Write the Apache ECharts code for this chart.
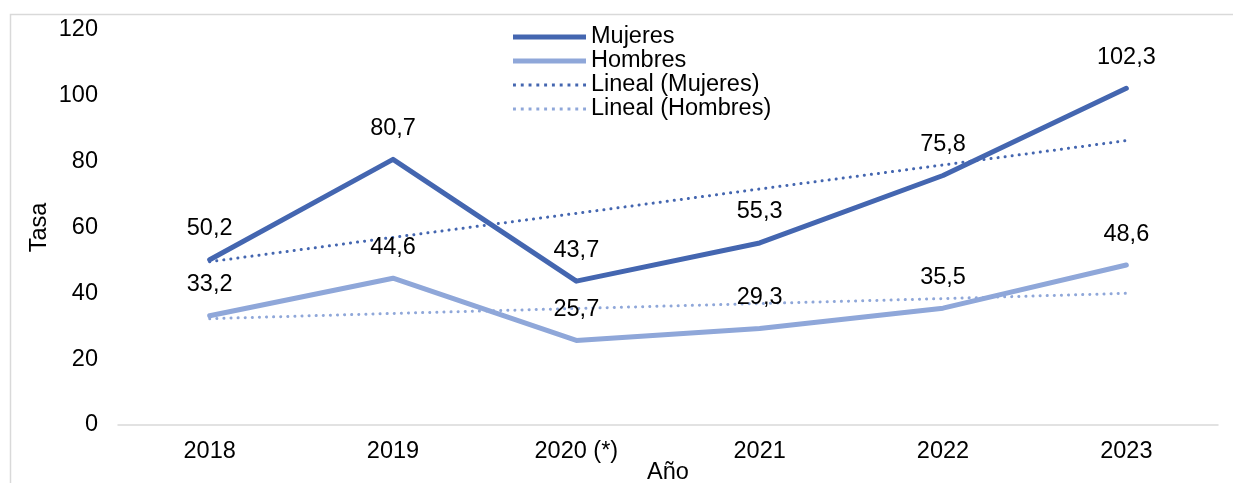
<!DOCTYPE html>
<html>
<head>
<meta charset="utf-8">
<script src="https://cdn.jsdelivr.net/npm/echarts@6/dist/echarts.min.js"></script>
<style>
html,body{margin:0;padding:0;background:#fff;}
#chart{width:1233px;height:483px;}
</style>
</head>
<body>
<div id="chart"></div>
<script>
const categories = ['2018', '2019', '2020 (*)', '2021', '2022', '2023'];
const mujeres = [50.2, 80.7, 43.7, 55.3, 75.8, 102.3];
const hombres = [33.2, 44.6, 25.7, 29.3, 35.5, 48.6];
const linealMujeres = [49.6, 57.0, 64.3, 71.7, 79.0, 86.4];
const linealHombres = [32.3, 33.9, 35.4, 36.9, 38.4, 40.0];
const yTicks = { min: 0, max: 120, interval: 20 };

const cM = '#4466B0';
const cH = '#8FA7D9';
const font = 'Liberation Sans, Arial, sans-serif';
const fs = 23.5;

// legend icons
const solidIcon = 'path://M0,0H73V5H0Z';
let dots = '';
for (let i = 0; i < 10; i++) { const x = i * 8; dots += 'M' + x + ',0h3v3h-3Z'; }
const dotIcon = 'path://' + dots;

const chart = echarts.init(document.getElementById('chart'), null, { renderer: 'canvas' });
const fmt = p => String(p.value).replace('.', ',');
const lbl = { show: true, position: 'top', distance: 19, formatter: fmt, fontFamily: font, fontSize: fs, color: '#000' };
chart.setOption({
  animation: false,
  backgroundColor: '#fff',
  graphic: [{
    type: 'rect', left: 8, top: 12, silent: true, z: -1,
    shape: { width: 1400, height: 700 },
    style: { fill: 'none', stroke: '#d9d9d9', lineWidth: 1.5 }
  }],
  grid: { left: 118, right: 15, top: 30, bottom: 58, containLabel: false, outerBoundsMode: 'none' },
  legend: {
    orient: 'vertical', left: 513, top: 25, itemGap: 0, padding: 0,
    itemWidth: 73, itemHeight: 24,
    textStyle: { fontFamily: font, fontSize: fs, color: '#000', lineHeight: 24 },
    data: [
      { name: 'Mujeres', icon: solidIcon },
      { name: 'Hombres', icon: solidIcon },
      { name: 'Lineal (Mujeres)', icon: dotIcon },
      { name: 'Lineal (Hombres)', icon: dotIcon }
    ]
  },
  xAxis: {
    type: 'category', data: categories, boundaryGap: true,
    name: 'Año', nameLocation: 'middle', nameGap: 36, nameMoveOverlap: false,
    nameTextStyle: { fontFamily: font, fontSize: fs, color: '#000' },
    axisLine: { lineStyle: { color: '#d9d9d9', width: 1.5 } },
    axisTick: { show: false },
    axisLabel: { fontFamily: font, fontSize: fs, color: '#000', margin: 15 }
  },
  yAxis: {
    type: 'value', min: yTicks.min, max: yTicks.max, interval: yTicks.interval,
    name: 'Tasa', nameLocation: 'middle', nameGap: 66, nameMoveOverlap: false,
    nameTextStyle: { fontFamily: font, fontSize: fs, color: '#000' },
    axisLine: { show: false }, axisTick: { show: false }, splitLine: { show: false },
    axisLabel: { fontFamily: font, fontSize: fs, color: '#000', margin: 20 }
  },
  series: [
    {
      name: 'Mujeres', type: 'line', data: mujeres, symbol: 'circle', symbolSize: 0.01, showSymbol: true, z: 3,
      lineStyle: { color: cM, width: 5, cap: 'round', join: 'round' },
      itemStyle: { color: cM },
      label: lbl
    },
    {
      name: 'Hombres', type: 'line', data: hombres, symbol: 'circle', symbolSize: 0.01, showSymbol: true, z: 3,
      lineStyle: { color: cH, width: 5, cap: 'round', join: 'round' },
      itemStyle: { color: cH },
      label: lbl
    },
    {
      name: 'Lineal (Mujeres)', type: 'line', data: linealMujeres, symbol: 'none', z: 2,
      lineStyle: { color: cM, width: 3, type: [0.1, 7], cap: 'round' },
      itemStyle: { color: cM }
    },
    {
      name: 'Lineal (Hombres)', type: 'line', data: linealHombres, symbol: 'none', z: 2,
      lineStyle: { color: cH, width: 3, type: [0.1, 7], cap: 'round' },
      itemStyle: { color: cH }
    }
  ]
});
</script>
</body>
</html>
